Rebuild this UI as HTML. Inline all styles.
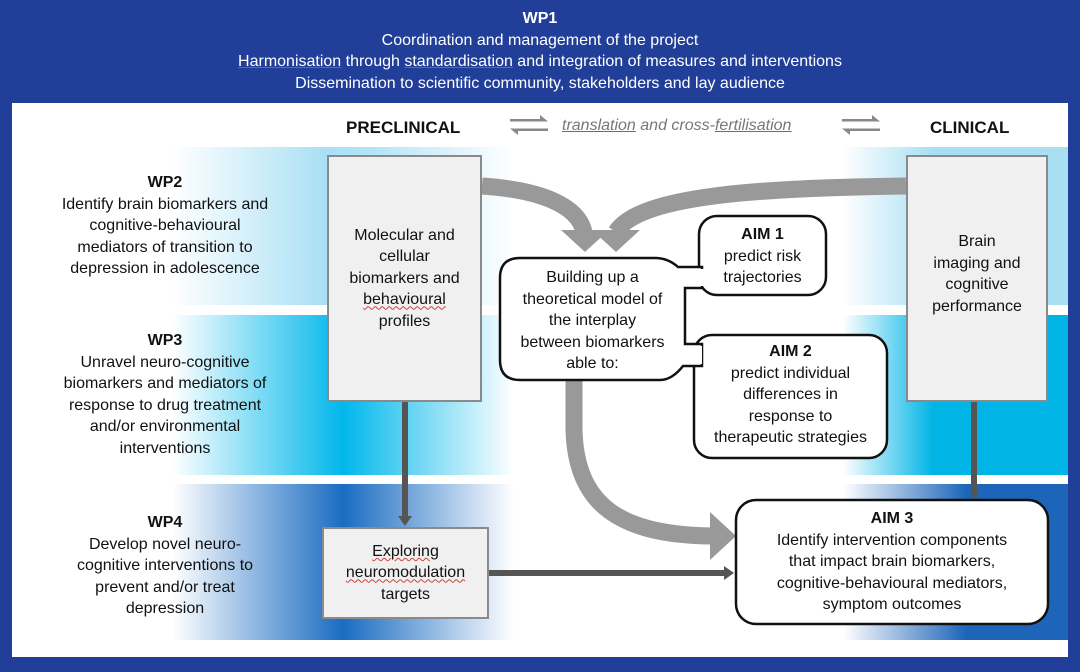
<!DOCTYPE html>
<html><head><meta charset="utf-8"><style>
html,body{margin:0;padding:0}
body{width:1080px;height:672px;position:relative;background:#213f99;font-family:"Liberation Sans","DejaVu Sans",sans-serif;overflow:hidden}
.abs{position:absolute}
.hd{left:0;width:1080px;color:#fff;font-size:16px;line-height:21.5px;text-align:center;top:8px}
.inner{left:12px;top:103px;width:1056px;height:554px;background:#fff}
.t{font-size:16px;line-height:21.5px;color:#111;text-align:center}
.box{position:absolute;background:#f0f0f0;border:2px solid #8a8a8a;box-sizing:border-box;display:flex;align-items:center;justify-content:center;text-align:center;font-size:16px;line-height:21.5px;color:#111}
u.r{text-decoration:underline wavy #d04040;text-decoration-thickness:1px}
</style></head><body>
<div class="abs hd"><b>WP1</b><br>Coordination and management of the project<br><u style="text-decoration-color:#c44">Harmonisation</u> through <u style="text-decoration-color:#c44">standardisation</u> and integration of measures and interventions<br>Dissemination to scientific community, stakeholders and lay audience</div>
<div class="abs inner"></div>
<div class="abs" style="left:172px;top:147px;width:342px;height:158px;background:linear-gradient(90deg,rgba(181,229,247,0),#a9e0f5 45%,#b5e5f7 60%,rgba(181,229,247,0))"></div>
<div class="abs" style="left:172px;top:315px;width:342px;height:160px;background:linear-gradient(90deg,rgba(0,183,235,0),#00b7eb 50%,rgba(0,183,235,0))"></div>
<div class="abs" style="left:172px;top:484px;width:342px;height:156px;background:linear-gradient(90deg,rgba(29,110,196,0),#1a6cc2 50%,rgba(29,110,196,0))"></div>
<div class="abs" style="left:843px;top:147px;width:225px;height:158px;background:linear-gradient(90deg,rgba(169,223,243,0),#a9dff3 40%,#a9dff3)"></div>
<div class="abs" style="left:843px;top:315px;width:225px;height:160px;background:linear-gradient(90deg,rgba(0,181,230,0),#00b5e6 40%,#00b5e6)"></div>
<div class="abs" style="left:843px;top:484px;width:225px;height:156px;background:linear-gradient(90deg,rgba(28,101,185,0),#1c65b9 55%,#1c65b9)"></div>

<div class="abs" style="left:346px;top:118px;font-size:17px;font-weight:bold;color:#111">PRECLINICAL</div>
<div class="abs" style="left:930px;top:118px;font-size:17px;font-weight:bold;color:#111">CLINICAL</div>
<div class="abs" style="left:562px;top:117px;font-size:16px;font-style:italic;color:#777"><u style="text-decoration-color:#c44">translation</u> and cross-<u style="text-decoration-color:#c44">fertilisation</u></div>
<svg class="abs" style="left:0;top:0" width="1080" height="672">
<g fill="#888">
<path d="M510 119h30v-4l8 6.5-8 0v0h-30z M548 131h-30v4l-8-6.5h38z"/>
<path d="M842 119h30v-4l8 6.5h-38z M880 131h-30v4l-8-6.5h38z"/>
</g>
<g fill="none" stroke="#999" stroke-width="17">
<path d="M482 186 C540 190 578 205 584 232"/>
<path d="M906 186 C760 188 640 195 616 232"/>
<path d="M574 378 L574 430 C576 505 620 535 712 536"/>
</g>
<g fill="#999">
<polygon points="561,230 609,230 585,252"/>
<polygon points="592,230 640,230 616,252"/>
<polygon points="710,512 710,560 736,536"/>
</g>
<g stroke="#555" stroke-width="6" fill="none">
<path d="M405 402 L405 518"/>
<path d="M489 573 L726 573"/>
<path d="M974 402 L974 498"/>
</g>
<polygon points="398,516 412,516 405,526" fill="#555"/>
<polygon points="724,566 724,580 734,573" fill="#555"/>
<g stroke="#111" stroke-width="2.5" fill="#fff">
<rect x="736" y="500" width="312" height="124" rx="20"/>
<rect x="699" y="216" width="127" height="79" rx="18"/>
<rect x="694" y="335" width="193" height="123" rx="18"/>
<path d="M520 258 H655 Q668 258 678 267 H702 V288 H685 V344 H702 V366 H683 Q672 380 660 380 H520 Q500 380 500 360 V278 Q500 258 520 258 Z"/>
</g>
<g fill="#fff"><rect x="697" y="269" width="10" height="17"/><rect x="692" y="346" width="10" height="18"/></g>
</svg>
<div class="box" style="left:327px;top:155px;width:155px;height:247px"><span>Molecular and<br>cellular<br>biomarkers and<br><u class="r">behavioural</u><br>profiles</span></div>
<div class="box" style="left:322px;top:527px;width:167px;height:92px"><span><u class="r">Exploring</u><br><u class="r">neuromodulation</u><br>targets</span></div>
<div class="box" style="left:906px;top:155px;width:142px;height:247px;align-items:flex-start;padding-top:74px"><span>Brain<br>imaging and<br>cognitive<br>performance</span></div>
<div class="abs t" style="left:500px;top:267px;width:185px">Building up a<br>theoretical model of<br>the interplay<br>between biomarkers<br>able to:</div>
<div class="abs t" style="left:699px;top:224px;width:127px"><b>AIM 1</b><br>predict risk<br>trajectories</div>
<div class="abs t" style="left:694px;top:341px;width:193px"><b>AIM 2</b><br>predict individual<br>differences in<br>response to<br>therapeutic strategies</div>
<div class="abs t" style="left:736px;top:508px;width:312px"><b>AIM 3</b><br>Identify intervention components<br>that impact brain biomarkers,<br>cognitive-behavioural mediators,<br>symptom outcomes</div>
<div class="abs t" style="left:20px;top:172px;width:290px"><b>WP2</b><br>Identify brain biomarkers and<br>cognitive-behavioural<br>mediators of transition to<br>depression in adolescence</div>
<div class="abs t" style="left:20px;top:330px;width:290px"><b>WP3</b><br>Unravel neuro-cognitive<br>biomarkers and mediators of<br>response to drug treatment<br>and/or environmental<br>interventions</div>
<div class="abs t" style="left:20px;top:512px;width:290px"><b>WP4</b><br>Develop novel neuro-<br>cognitive interventions to<br>prevent and/or treat<br>depression</div>
</body></html>
